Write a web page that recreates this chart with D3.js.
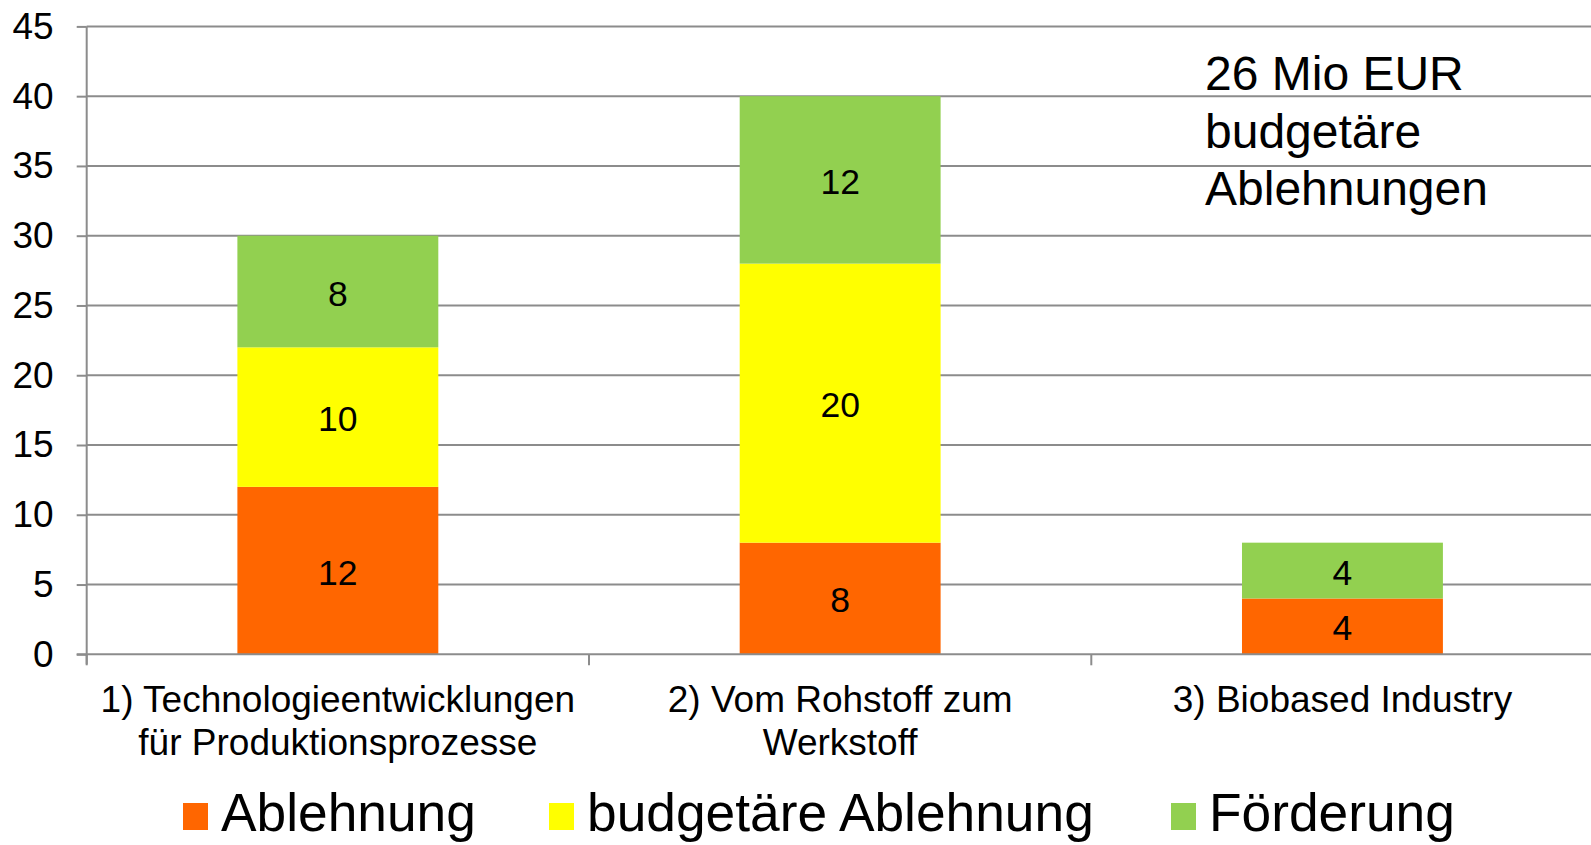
<!DOCTYPE html>
<html><head><meta charset="utf-8">
<script src="https://cdn.jsdelivr.net/npm/d3@7"></script>
<style>
html,body{margin:0;padding:0;background:#fff;}
svg{display:block;font-family:"Liberation Sans",Arial,sans-serif;}
</style></head>
<body>
<svg id="chart" width="1591" height="845"></svg>
<script>
const categories = [
  ["1) Technologieentwicklungen", "für Produktionsprozesse"],
  ["2) Vom Rohstoff zum", "Werkstoff"],
  ["3) Biobased Industry"]
];
const seriesNames = ["Ablehnung", "budgetäre Ablehnung", "Förderung"];
const ablehnung = [12, 8, 4];
const budgetaere = [10, 20, 0];
const foerderung = [8, 12, 4];
const colors = ["#FF6600", "#FFFF00", "#92D050"];
const yTicks = [0, 5, 10, 15, 20, 25, 30, 35, 40, 45];
const noteLines = ["26 Mio EUR", "budgetäre", "Ablehnungen"];

(function () {
const svg = d3.select("#chart");
const pLeft = 86.7, pRight = 1593.6, pTop = 26.4, pBottom = 654.3;
const gridColor = "#8C8C8C";

const x = d3.scaleBand().domain(d3.range(categories.length)).range([pLeft, pRight])
  .paddingInner(0.6).paddingOuter(0.3);
const y = d3.scaleLinear().domain([0, 45]).range([pBottom, pTop]);

// gridlines
svg.append("g").selectAll("line").data(yTicks.filter(d => d > 0)).join("line")
  .attr("x1", pLeft).attr("x2", 1591).attr("y1", d => y(d)).attr("y2", d => y(d))
  .attr("stroke", gridColor).attr("stroke-width", 2);

// stacked data
const rows = categories.map((c, i) => ({i, a: ablehnung[i], b: budgetaere[i], f: foerderung[i]}));
const stack = d3.stack().keys(["a", "b", "f"])(rows);

const g = svg.append("g");
stack.forEach((layer, k) => {
  g.append("g").selectAll("rect").data(layer.filter(d => d[1] > d[0])).join("rect")
    .attr("x", d => x(d.data.i)).attr("width", x.bandwidth())
    .attr("y", d => y(d[1])).attr("height", d => y(d[0]) - y(d[1]))
    .attr("fill", colors[k]);
  g.append("g").selectAll("text").data(layer.filter(d => d[1] > d[0])).join("text")
    .attr("x", d => x(d.data.i) + x.bandwidth() / 2)
    .attr("y", d => (y(d[0]) + y(d[1])) / 2 + 2)
    .attr("text-anchor", "middle").attr("dominant-baseline", "central")
    .attr("font-size", 35.5).attr("fill", "#000")
    .text(d => d[1] - d[0]);
});

// y axis
const yAxis = svg.append("g").attr("transform", `translate(${pLeft},0)`)
  .call(d3.axisLeft(y).tickValues(yTicks).tickSize(10).tickPadding(23));
yAxis.select(".domain").attr("stroke", gridColor).attr("stroke-width", 2)
  .attr("d", `M0,${pTop}V${pBottom + 10}`);
yAxis.selectAll(".tick line").attr("stroke", gridColor).attr("stroke-width", 2);
yAxis.selectAll(".tick text").attr("font-size", 37).attr("fill", "#000")
  .attr("font-family", "Liberation Sans, Arial, sans-serif");

// x axis
const xAxisG = svg.append("g").attr("transform", `translate(0,${pBottom})`);
xAxisG.append("line").attr("x1", pLeft - 10).attr("x2", 1591).attr("y1", 0).attr("y2", 0)
  .attr("stroke", gridColor).attr("stroke-width", 2);
const step = x.step();
xAxisG.selectAll("line.tk").data(d3.range(categories.length)).join("line").attr("class", "tk")
  .attr("x1", i => x(i) + x.bandwidth() / 2 - step / 2).attr("x2", i => x(i) + x.bandwidth() / 2 - step / 2)
  .attr("y1", 0).attr("y2", 11).attr("stroke", gridColor).attr("stroke-width", 2);
categories.forEach((lines, i) => {
  const t = xAxisG.append("text").attr("x", x(i) + x.bandwidth() / 2).attr("y", 58)
    .attr("text-anchor", "middle").attr("font-size", 37).attr("fill", "#000");
  lines.forEach((ln, j) => t.append("tspan").attr("x", x(i) + x.bandwidth() / 2)
    .attr("dy", j === 0 ? 0 : 43).text(ln));
});

// annotation
const note = svg.append("text").attr("x", 1205).attr("y", 90).attr("font-size", 48).attr("fill", "#000");
noteLines.forEach((ln, j) => note.append("tspan").attr("x", 1205).attr("dy", j === 0 ? 0 : 57.5).text(ln));

// legend
const legendX = [183, 549, 1171];
const leg = svg.append("g");
seriesNames.forEach((n, k) => {
  leg.append("rect").attr("x", legendX[k]).attr("y", 803).attr("width", 25).attr("height", 27).attr("fill", colors[k]);
  leg.append("text").attr("x", legendX[k] + 38).attr("y", 831).attr("font-size", 53.3).attr("fill", "#000").text(n);
});
})();
</script>
</body></html>
